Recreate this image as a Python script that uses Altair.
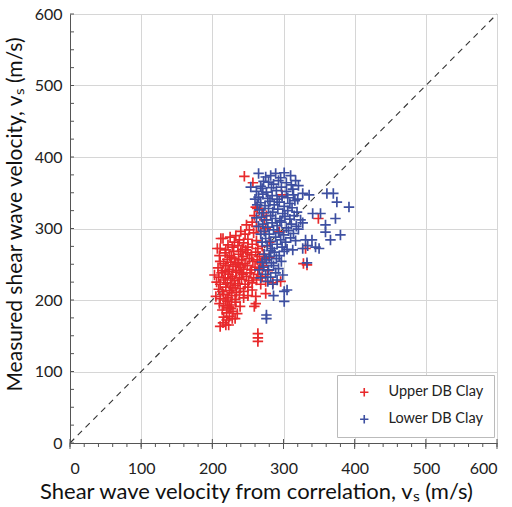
import altair as alt
import pandas as pd

# Upper DB Clay (red)
upper_x = [245,257,298,261,263,259,270,256,273,275,248,262,252,294,240,246,258,268,233,
           212,215,280,225,238,250,262,244,231,207,222,228,236,242,250,256,264,270,211,219,247,
           210,218,224,230,237,243,249,255,261,266,272,227,240,
           211,216,221,226,231,236,241,246,252,257,263,268,274,233,
           208,214,219,224,229,234,239,244,249,255,260,266,271,278,222,237,
           203,209,213,218,223,228,233,238,243,248,253,258,264,270,226,241,296,
           206,211,216,221,226,231,236,241,246,251,256,262,268,275,232,
           209,214,219,224,229,234,239,244,250,256,275,227,
           205,211,216,222,227,232,238,244,250,261,219,
           210,216,221,227,233,239,259,261,224,
           214,220,226,229,235,222,
           216,224,228,232,220,
           211,219,223,215,
           264,264,264,
           331,328,333,349,294,280,276,285]
upper_y = [373,364,347,330,328,318,322,309,312,300,305,303,298,295,296,292,294,296,290,
           286,286,281,288,284,285,283,280,281,272,277,274,276,271,274,278,272,275,272,270,270,
           262,266,262,268,264,261,266,263,267,261,264,260,268,
           254,251,257,253,258,252,256,251,258,254,256,252,258,250,
           245,241,248,243,247,241,246,243,248,242,246,244,248,241,240,249,
           235,232,238,231,236,233,239,231,236,233,238,231,236,233,230,238,226,
           225,222,228,224,221,227,223,229,222,227,224,228,222,226,220,
           215,212,218,213,217,211,216,212,218,214,209,210,
           205,202,208,203,206,201,207,203,206,205,200,
           195,192,198,193,197,191,191,195,190,
           186,182,188,184,181,189,
           176,177,174,174,172,
           163,165,165,168,
           153,147,142,
           272,251,249,314,295,260,318,224]

# Lower DB Clay (blue)
lower_x = [282,301,310,289,265,296,275,
           268,317,321,279,286,293,304,311,272,
           254,262,270,276,283,290,297,304,313,327,361,370,336,
           265,271,278,284,291,298,306,314,320,375,260,
           268,274,281,287,294,301,309,316,392,263,
           266,272,279,285,292,299,306,312,319,341,352,
           269,276,282,289,295,302,309,315,324,373,262,
           271,278,284,291,297,304,311,318,327,359,265,
           273,280,286,293,300,307,314,321,359,380,268,
           275,282,289,296,303,310,317,331,340,366,270,
           277,284,291,298,305,313,345,350,334,327,
           273,280,287,294,301,282,
           276,283,290,297,333,270,
           272,279,286,293,266,
           275,282,289,299,268,
           278,285,291,
           301,305,286,301,276,276]
lower_y = [374,378,374,377,377,371,372,
           359,367,360,365,362,367,364,361,366,
           358,352,356,351,357,353,358,352,355,349,349,349,347,
           344,348,342,346,341,345,343,347,341,337,341,
           336,332,338,333,337,331,335,339,330,333,
           326,322,328,323,327,321,325,329,323,321,321,
           316,312,318,314,311,317,313,318,312,314,315,
           306,302,308,304,309,301,306,303,308,305,303,
           296,292,298,294,291,297,293,299,295,291,292,
           286,282,288,284,281,287,283,284,284,284,281,
           276,272,278,274,271,270,274,272,276,272,
           264,261,267,262,268,269,
           256,252,258,254,252,253,
           246,242,248,244,242,
           236,232,238,235,231,
           226,222,228,
           212,214,206,198,179,174]

cat_upper = "Upper DB Clay"
cat_lower = "Lower DB Clay"
colors = ["#e8292b", "#3d4fa1"]

major_ticks = [0, 100, 200, 300, 400, 500, 600]
line_x = [0, 600]
line_y = [0, 600]
x_minor = list(range(0, 601, 20))
y_minor = list(range(0, 601, 25))

df = pd.concat([
    pd.DataFrame({"x": upper_x, "y": upper_y, "group": cat_upper}),
    pd.DataFrame({"x": lower_x, "y": lower_y, "group": cat_lower}),
])
df_line = pd.DataFrame({"x": line_x, "y": line_y})
df_xminor = pd.DataFrame({"x": x_minor})
df_xmajor = pd.DataFrame({"x": major_ticks})
df_yminor = pd.DataFrame({"y": y_minor})

W, H = 427, 429
FONT = "Lato"
plus = "M-1,0L1,0M0,-1L0,1"

xscale = alt.Scale(domain=[0, 600], nice=False, zero=True)
yscale = alt.Scale(domain=[0, 600], nice=False, zero=True)

xaxis = alt.Axis(
    values=major_ticks, labelOverlap=False,
    title="Shear wave velocity from correlation, vₛ (m/s)",
    titleFont=FONT, titleFontSize=22, titleFontWeight="normal", titleColor="#111",
    titleX=186, titleAnchor="middle",
    labelFont=FONT, labelFontSize=16, labelColor="#222", labelPadding=17,
    titlePadding=5,
    domainColor="#555", tickSize=0,
    gridColor="#d6d6d6",
)
yaxis = alt.Axis(
    values=major_ticks, labelOverlap=False,
    title="Measured shear wave velocity, vₛ (m/s)",
    titleFont=FONT, titleFontSize=21, titleFontWeight="normal", titleColor="#111",
    titleY=200, titleAnchor="middle",
    labelFont=FONT, labelFontSize=16, labelColor="#222", labelPadding=8,
    titlePadding=9,
    domainColor="#555", tickSize=0,
    gridColor="#d6d6d6",
)

points = alt.Chart(df).mark_point(
    shape=plus, filled=False, strokeWidth=1.7, size=110, opacity=1
).encode(
    x=alt.X("x:Q", scale=xscale, axis=xaxis),
    y=alt.Y("y:Q", scale=yscale, axis=yaxis),
    color=alt.Color(
        "group:N",
        scale=alt.Scale(domain=[cat_upper, cat_lower], range=colors),
        legend=alt.Legend(
            title=None, orient="none", legendX=267, legendY=361,
            symbolType=plus, symbolSize=70, symbolStrokeWidth=1.6,
            labelFont=FONT, labelFontSize=14.5, labelColor="#222",
            labelExpr="datum.label + '\u00a0\u00a0\u00a0\u00a0\u00a0'",
            padding=10, rowPadding=11, symbolOffset=10, labelOffset=17,
            strokeColor="#bbbbbb", fillColor="white", labelLimit=300,
        ),
    ),
)

diag = alt.Chart(df_line).mark_line(
    color="#333", strokeDash=[6, 5], strokeWidth=1.1
).encode(x=alt.X("x:Q", scale=xscale), y=alt.Y("y:Q", scale=yscale))

yticks = alt.Chart(df_yminor).mark_rule(color="#555", strokeWidth=1).encode(
    y=alt.Y("y:Q", scale=yscale), x=alt.value(0), x2=alt.value(4)
)
xticks = alt.Chart(df_xminor).mark_rule(color="#555", strokeWidth=1).encode(
    x=alt.X("x:Q", scale=xscale), y=alt.value(H), y2=alt.value(H + 4)
)
xmajor = alt.Chart(df_xmajor).mark_rule(color="#555", strokeWidth=1).encode(
    x=alt.X("x:Q", scale=xscale), y=alt.value(H - 4), y2=alt.value(H + 6)
)

chart = alt.layer(diag, yticks, xticks, xmajor, points).properties(
    width=W, height=H,
    autosize=alt.AutoSizeParams(type="none"),
    padding={"left": 70, "top": 14, "right": 15, "bottom": 64},
).configure_view(stroke=None).configure(background="white")

chart.save("out.html", embed_options={"renderer": "svg", "actions": False})
